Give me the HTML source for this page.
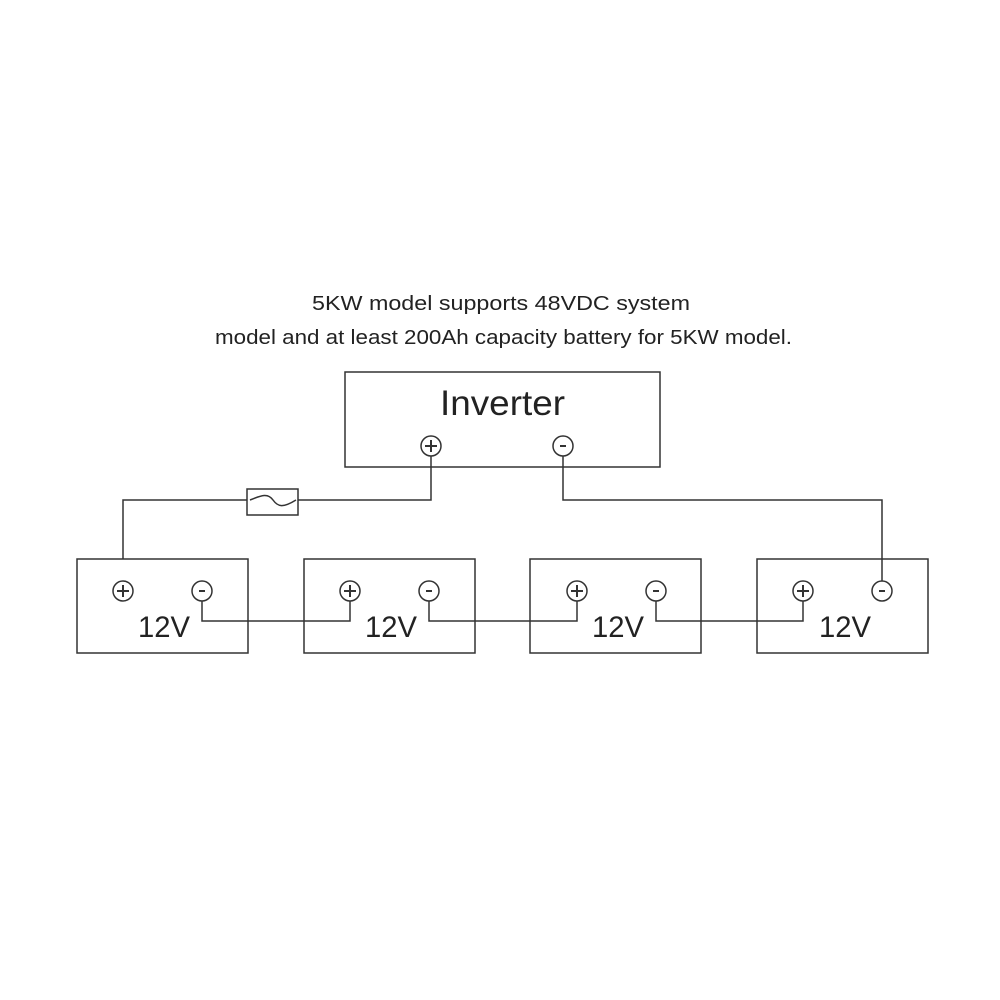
<!DOCTYPE html>
<html><head><style>
body{margin:0;background:#fff;}
svg{display:block}
text{font-family:"Liberation Sans",sans-serif;fill:#222}
</style></head><body>
<svg width="1000" height="1000" viewBox="0 0 1000 1000">
<g stroke="#333" stroke-width="1.5" fill="none">
<rect x="345" y="372" width="315" height="95"/>
<rect x="77" y="559" width="171" height="94"/>
<rect x="304" y="559" width="171" height="94"/>
<rect x="530" y="559" width="171" height="94"/>
<rect x="757" y="559" width="171" height="94"/>
<rect x="247" y="489" width="51" height="26"/>
<path d="M431 456V500H298M247 500H123V559"/>
<path d="M250 500C262 495 268 493 273 500S283 508 296 500"/>
<path d="M563 456V500H882V581"/>
<path d="M202 601V621H350V601"/>
<path d="M429 601V621H577V601"/>
<path d="M656 601V621H803V601"/>
<g fill="#fff">
<circle cx="431" cy="446" r="10"/><circle cx="563" cy="446" r="10"/>
<circle cx="123" cy="591" r="10"/><circle cx="202" cy="591" r="10"/>
<circle cx="350" cy="591" r="10"/><circle cx="429" cy="591" r="10"/>
<circle cx="577" cy="591" r="10"/><circle cx="656" cy="591" r="10"/>
<circle cx="803" cy="591" r="10"/><circle cx="882" cy="591" r="10"/>
</g>
<g stroke-width="2">
<path d="M425 446h12M431 440v12"/><path d="M560 446h6"/>
<path d="M117 591h12M123 585v12"/><path d="M199 591h6"/>
<path d="M344 591h12M350 585v12"/><path d="M426 591h6"/>
<path d="M571 591h12M577 585v12"/><path d="M653 591h6"/>
<path d="M797 591h12M803 585v12"/><path d="M879 591h6"/>
</g>
</g>
<text x="312" y="310" font-size="20" textLength="378" lengthAdjust="spacingAndGlyphs">5KW model supports 48VDC system</text>
<text x="215" y="344" font-size="20" textLength="577" lengthAdjust="spacingAndGlyphs">model and at least 200Ah capacity battery for 5KW model.</text>
<text x="440" y="415" font-size="35" textLength="125" lengthAdjust="spacingAndGlyphs">Inverter</text>
<text x="138" y="637" font-size="30" textLength="52" lengthAdjust="spacingAndGlyphs">12V</text>
<text x="365" y="637" font-size="30" textLength="52" lengthAdjust="spacingAndGlyphs">12V</text>
<text x="592" y="637" font-size="30" textLength="52" lengthAdjust="spacingAndGlyphs">12V</text>
<text x="819" y="637" font-size="30" textLength="52" lengthAdjust="spacingAndGlyphs">12V</text>
</svg>
</body></html>
